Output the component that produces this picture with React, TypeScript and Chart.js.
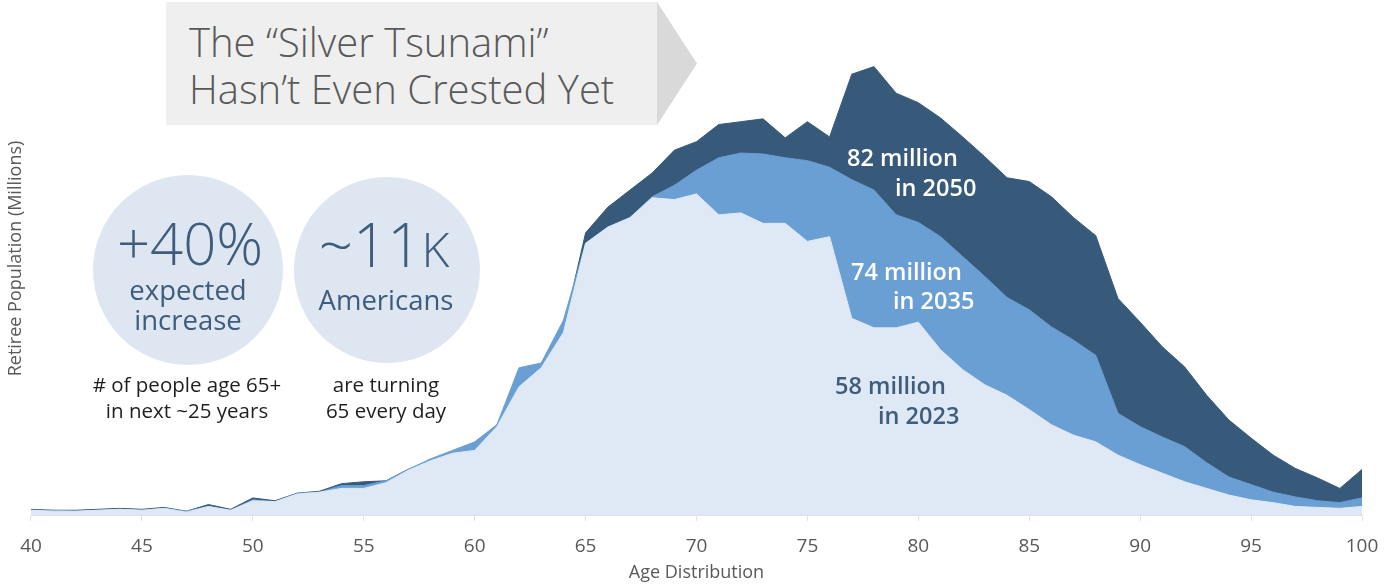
import React, { useEffect, useRef } from "react";
import { Chart, registerables } from "chart.js";

Chart.register(...registerables);

// Age categories (x axis)
const ages: number[] = [
  40, 41, 42, 43, 44, 45, 46, 47, 48, 49,
  50, 51, 52, 53, 54, 55, 56, 57, 58, 59,
  60, 61, 62, 63, 64, 65, 66, 67, 68, 69,
  70, 71, 72, 73, 74, 75, 76, 77, 78, 79,
  80, 81, 82, 83, 84, 85, 86, 87, 88, 89,
  90, 91, 92, 93, 94, 95, 96, 97, 98, 99,
  100,
];

// Retiree population by single year of age (millions)
const pop2023: number[] = [
  0.05, 0.04, 0.04, 0.05, 0.06, 0.05, 0.07, 0.03, 0.09, 0.05,
  0.15, 0.14, 0.22, 0.24, 0.28, 0.28, 0.34, 0.47, 0.57, 0.65,
  0.68, 0.93, 1.35, 1.55, 1.92, 2.86, 3.03, 3.13, 3.34, 3.32,
  3.38, 3.16, 3.18, 3.07, 3.07, 2.88, 2.93, 2.07, 1.97, 1.97,
  2.03, 1.74, 1.53, 1.37, 1.26, 1.11, 0.95, 0.84, 0.77, 0.63,
  0.53, 0.44, 0.35, 0.28, 0.21, 0.16, 0.13, 0.09, 0.08, 0.07,
  0.09,
];

const pop2035: number[] = [
  0.05, 0.05, 0.04, 0.05, 0.06, 0.05, 0.07, 0.04, 0.09, 0.05,
  0.16, 0.14, 0.23, 0.24, 0.31, 0.31, 0.36, 0.48, 0.59, 0.68,
  0.77, 0.95, 1.55, 1.6, 2.05, 2.86, 3.03, 3.13, 3.35, 3.47,
  3.63, 3.76, 3.81, 3.8, 3.76, 3.73, 3.66, 3.53, 3.42, 3.16,
  3.08, 2.93, 2.72, 2.51, 2.29, 2.16, 1.98, 1.84, 1.68, 1.07,
  0.93, 0.82, 0.72, 0.55, 0.4, 0.32, 0.24, 0.19, 0.15, 0.13,
  0.18,
];

const pop2050: number[] = [
  0.06, 0.05, 0.05, 0.06, 0.07, 0.06, 0.08, 0.04, 0.11, 0.06,
  0.18, 0.15, 0.23, 0.25, 0.33, 0.35, 0.36, 0.48, 0.57, 0.63,
  0.69, 0.95, 1.35, 1.57, 1.95, 2.97, 3.24, 3.42, 3.6, 3.84,
  3.93, 4.11, 4.14, 4.17, 3.97, 4.14, 3.98, 4.64, 4.72, 4.44,
  4.34, 4.18, 3.98, 3.77, 3.55, 3.51, 3.35, 3.13, 2.94, 2.28,
  2.03, 1.77, 1.56, 1.26, 1.0, 0.81, 0.63, 0.49, 0.39, 0.28,
  0.48,
];

const seriesNames: string[] = ["2023", "2035", "2050"];
const seriesColors: string[] = ["#dfe9f5", "#6a9fd3", "#375a7b"];

const AXIS_GREY = "#595959";
const FONT = "'Open Sans', 'Noto Sans', sans-serif";

type TxtProps = {
  x: number;
  y: number;
  size: number;
  color: string;
  weight?: number;
  align?: "center" | "left";
  children: React.ReactNode;
};

function Txt({ x, y, size, color, weight = 400, align = "center", children }: TxtProps) {
  return (
    <div
      style={{
        position: "absolute",
        left: x,
        top: y,
        transform: align === "center" ? "translate(-50%, -50%)" : "translate(0, -50%)",
        fontFamily: FONT,
        fontSize: size,
        fontWeight: weight,
        color,
        lineHeight: 1,
        whiteSpace: "nowrap",
      }}
    >
      {children}
    </div>
  );
}

function Circle({ cx, cy, r }: { cx: number; cy: number; r: number }) {
  return (
    <div
      style={{
        position: "absolute",
        left: cx - r,
        top: cy - r,
        width: r * 2,
        height: r * 2,
        borderRadius: "50%",
        background: "#dde6f1",
      }}
    />
  );
}

export default function App() {
  const canvasRef = useRef<HTMLCanvasElement | null>(null);

  useEffect(() => {
    if (!canvasRef.current) return;
    const mk = (vals: number[]) => ages.map((a, i) => ({ x: a, y: vals[i] }));
    const ds = (i: number, vals: number[]) => ({
      label: seriesNames[i],
      data: mk(vals),
      backgroundColor: seriesColors[i],
      borderColor: seriesColors[i],
      borderWidth: 1,
      fill: "origin" as const,
      pointRadius: 0,
      tension: 0,
    });
    const chart = new Chart(canvasRef.current, {
      type: "line",
      data: {
        datasets: [ds(0, pop2023), ds(1, pop2035), ds(2, pop2050)],
      },
      options: {
        animation: false,
        responsive: false,
        maintainAspectRatio: false,
        layout: { padding: { left: 1.4, right: 36, top: 2, bottom: 4.6 } },
        plugins: {
          legend: { display: false },
          tooltip: { enabled: false },
        },
        scales: {
          x: {
            type: "linear",
            min: 40,
            max: 100,
            ticks: {
              stepSize: 5,
              color: AXIS_GREY,
              padding: 14,
              font: { family: FONT, size: 19 },
            },
            grid: {
              display: true,
              drawOnChartArea: false,
              drawTicks: true,
              tickLength: 6,
              color: "#e3e3e3",
            },
            border: { display: true, color: "#e3e3e3", width: 1 },
            title: {
              display: true,
              text: "Age Distribution",
              color: AXIS_GREY,
              padding: { top: -10, bottom: 0 },
              font: { family: FONT, size: 18 },
            },
          },
          y: {
            min: 0,
            max: 5.4,
            ticks: { display: false },
            grid: { display: false, drawTicks: false },
            border: { display: false },
            title: {
              display: true,
              text: "Retiree Population (Millions)",
              color: AXIS_GREY,
              padding: { top: 4, bottom: 4 },
              font: { family: FONT, size: 18 },
            },
          },
        },
      },
    });
    return () => chart.destroy();
  }, []);

  const dark = "#3e5c7c";

  return (
    <div style={{ position: "absolute", left: 0, top: 0, width: 1398, height: 588, background: "#fff", overflow: "hidden" }}>
      <canvas ref={canvasRef} width={1398} height={588} style={{ position: "absolute", left: 0, top: 0 }} />

      {/* Title banner */}
      <div style={{ position: "absolute", left: 166, top: 2, width: 492, height: 123, background: "#efefef" }} />
      <div
        style={{
          position: "absolute",
          left: 657,
          top: 2,
          width: 40,
          height: 123,
          background: "#d9d9d9",
          clipPath: "polygon(0 0, 100% 50%, 0 100%)",
        }}
      />
      <Txt x={189} y={42} size={40} color="#595959" weight={300} align="left">
        The “Silver Tsunami”
      </Txt>
      <Txt x={189} y={89} size={40} color="#595959" weight={300} align="left">
        Hasn’t Even Crested Yet
      </Txt>

      {/* Circles */}
      <Circle cx={188} cy={270} r={95} />
      <Circle cx={387} cy={270} r={93} />
      <Txt x={190} y={243} size={58} color={dark} weight={300}>+40%</Txt>
      <Txt x={188} y={290} size={27.5} color={dark} weight={400}>expected</Txt>
      <Txt x={188} y={320} size={27.5} color={dark} weight={400}>increase</Txt>
      <Txt x={384} y={244} size={60} color={dark} weight={300}>
        ~11<span style={{ fontSize: 48 }}>K</span>
      </Txt>
      <Txt x={386} y={300} size={27.5} color={dark} weight={400}>Americans</Txt>

      <Txt x={187} y={384} size={20.5} color="#1f1f1f">{"# of people age 65+"}</Txt>
      <Txt x={187} y={410} size={20.5} color="#1f1f1f">in next ~25 years</Txt>
      <Txt x={386} y={384} size={20.5} color="#1f1f1f">are turning</Txt>
      <Txt x={386} y={410} size={20.5} color="#1f1f1f">65 every day</Txt>

      {/* Series labels */}
      <Txt x={847} y={158} size={23.5} color="#ffffff" weight={600} align="left">82 million</Txt>
      <Txt x={895} y={188} size={23.5} color="#ffffff" weight={600} align="left">in 2050</Txt>
      <Txt x={851} y={272} size={23.5} color="#ffffff" weight={600} align="left">74 million</Txt>
      <Txt x={893} y={301} size={23.5} color="#ffffff" weight={600} align="left">in 2035</Txt>
      <Txt x={835} y={386} size={23.5} color="#3e5c7c" weight={600} align="left">58 million</Txt>
      <Txt x={878} y={416} size={23.5} color="#3e5c7c" weight={600} align="left">in 2023</Txt>
    </div>
  );
}
